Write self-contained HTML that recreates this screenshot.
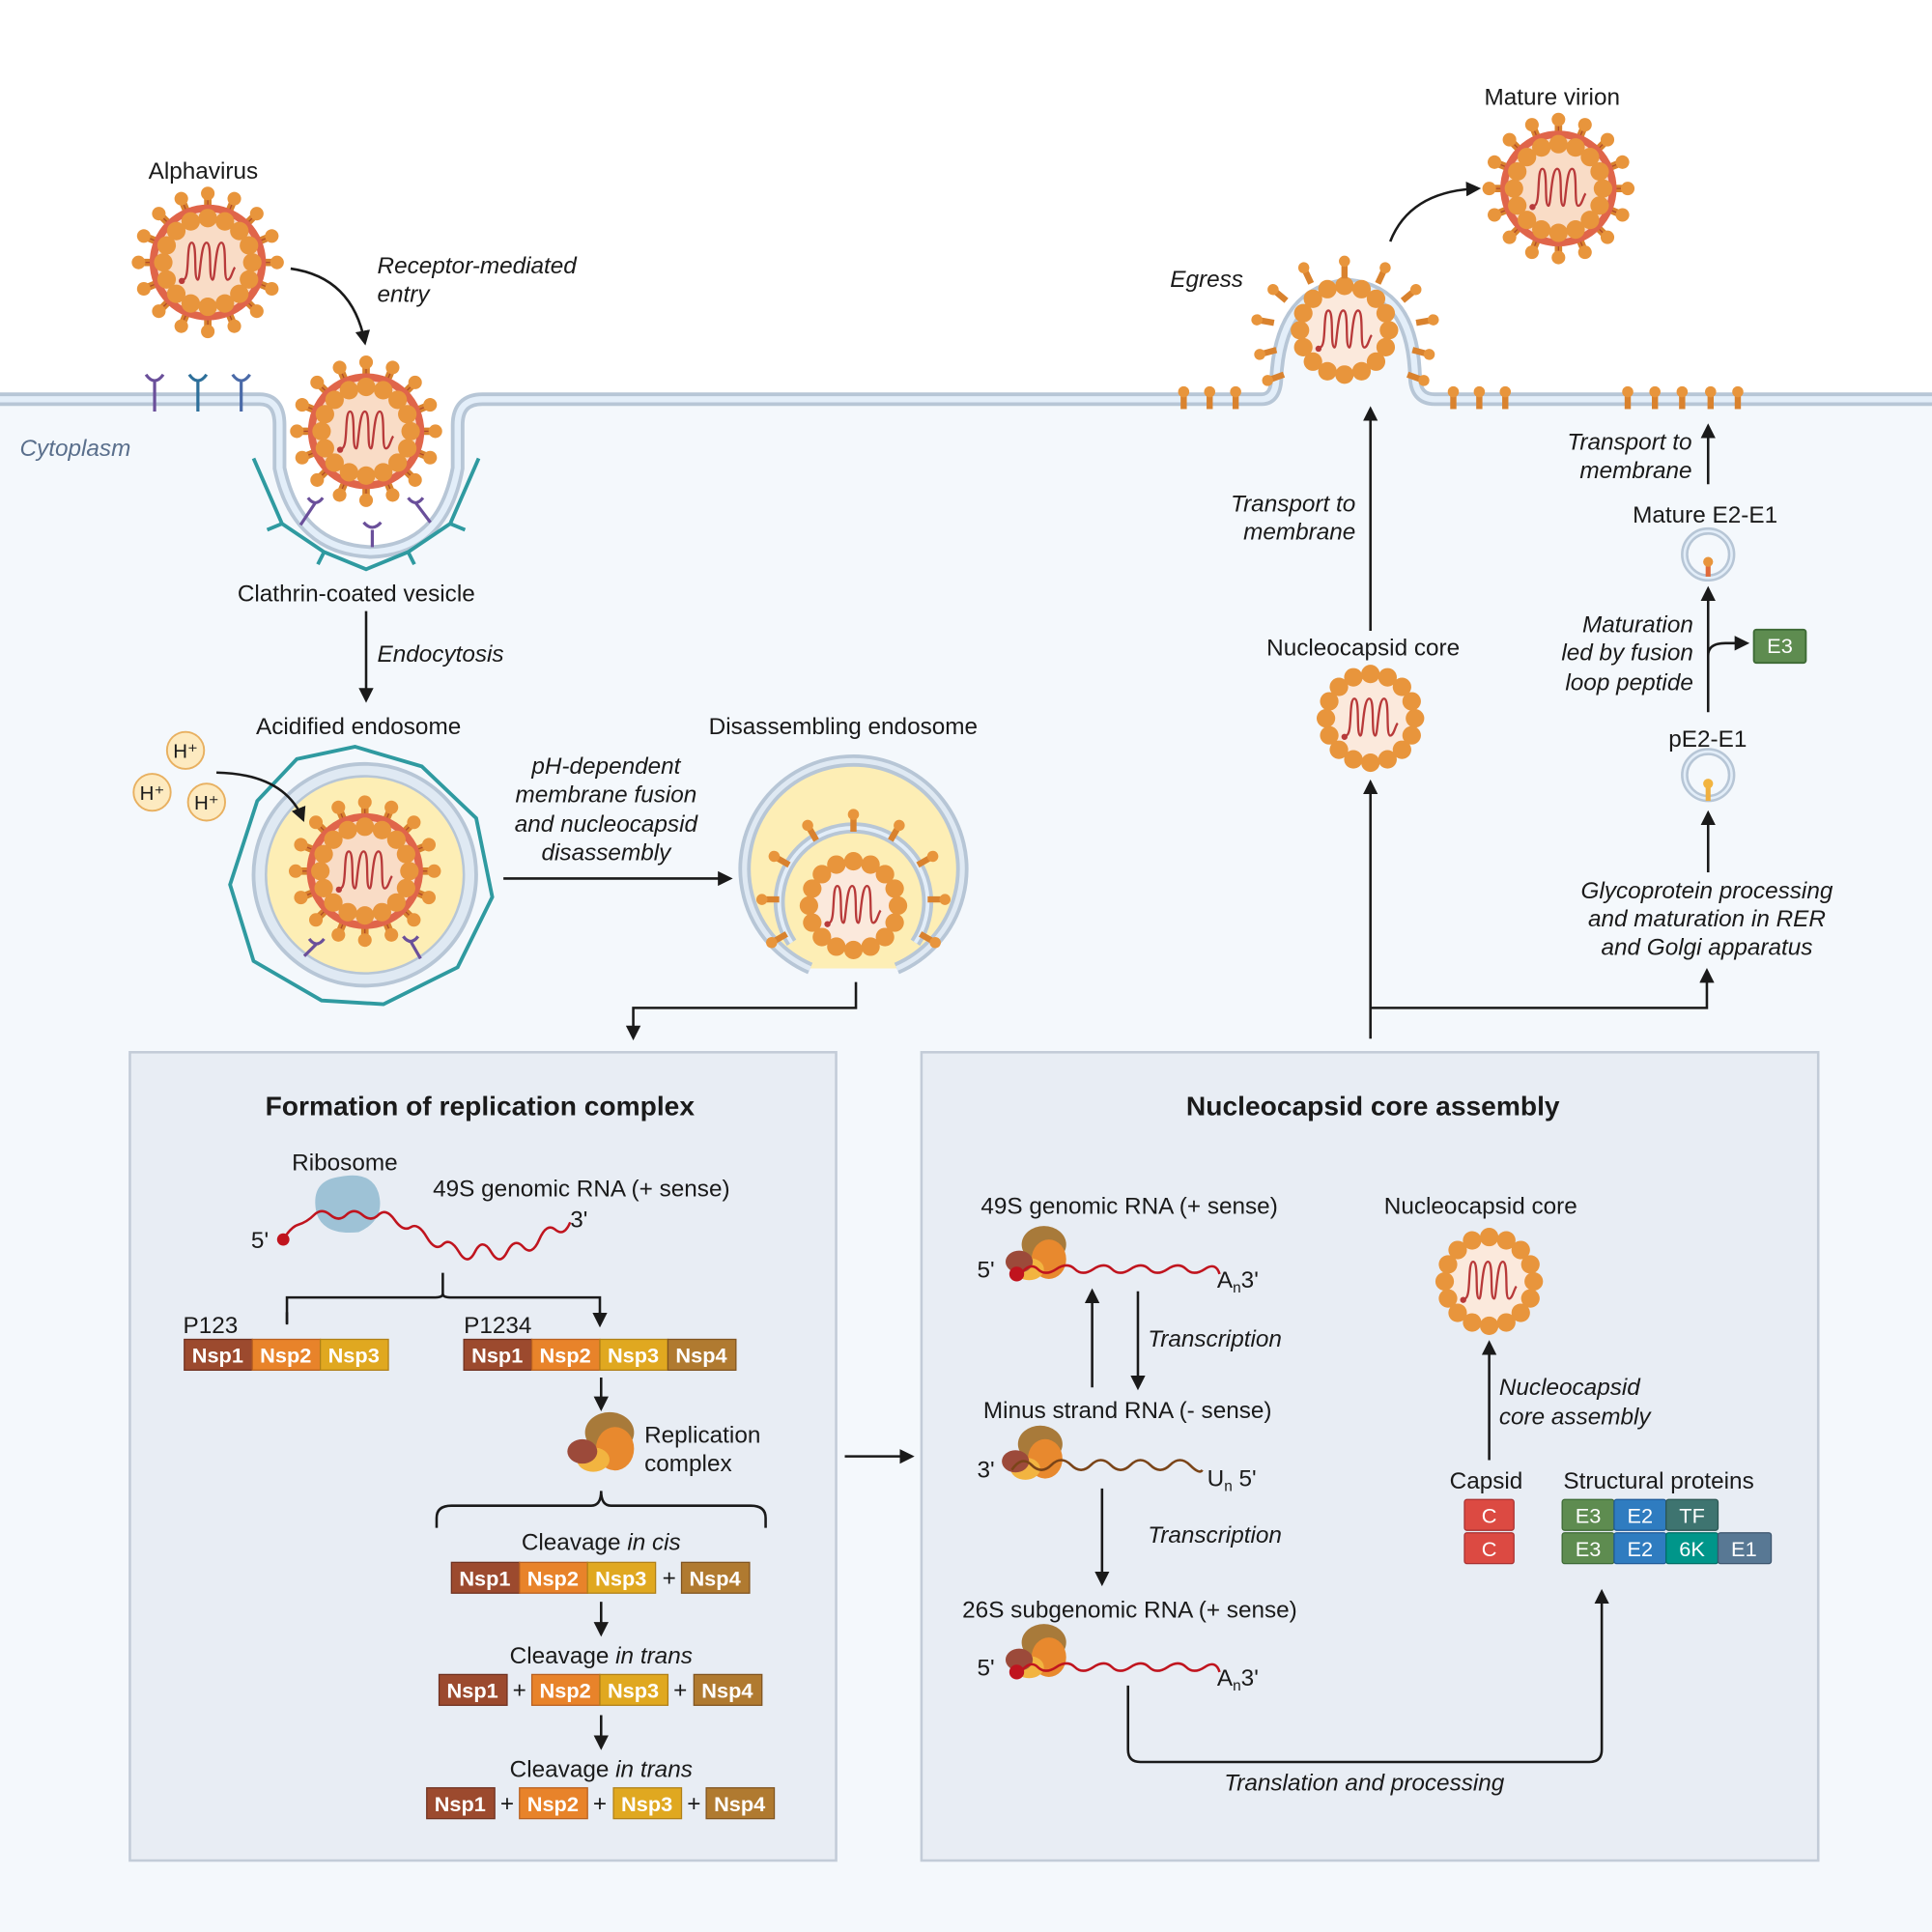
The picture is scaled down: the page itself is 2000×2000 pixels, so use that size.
<!DOCTYPE html>
<html><head><meta charset="utf-8"><style>
html,body{margin:0;padding:0;background:#fff}
svg{display:block}
text{font-family:"Liberation Sans",sans-serif;fill:#1a1a1a}
.t{font-size:19px}
.i{font-size:19px;font-style:italic}
.h{font-size:22px;font-weight:bold}
.b{font-size:17px;font-weight:bold;fill:#fff}
.w{font-size:17px;fill:#fff}
</style></head><body>
<svg width="2000" height="2000" viewBox="0 0 1562 1568" preserveAspectRatio="none" xmlns="http://www.w3.org/2000/svg">
<defs>
<marker id="ar" viewBox="0 0 10 10" refX="8" refY="5" markerWidth="6" markerHeight="6" orient="auto-start-reverse"><path d="M0,0 L10,5 L0,10 z" fill="#1a1a1a"/></marker>
<g id="coil"><path d="M-20,14 c6,0 2,-30 7,-30 c5,0 1,30 5,30 c2,0 2,-30 7,-30 c5,0 1,30 5,30 c2,0 2,-30 7,-30 c5,0 1,30 5,30 c3,0 4,-8 6,-10" fill="none" stroke="#b83a3a" stroke-width="1.8"/><circle cx="-21" cy="15" r="2.5" fill="#b83a3a"/></g>
<g id="spike"><line x1="0" y1="-44" x2="0" y2="-55" stroke="#d9822e" stroke-width="6"/><line x1="0" y1="-44" x2="0" y2="-55" stroke="#b04a2a" stroke-width="1"/><circle cx="0" cy="-56" r="5.5" fill="#e8953c"/></g>
<g id="beads">
<circle cx="0" cy="-36" r="7.5" fill="#e8953c"/><circle cx="13.8" cy="-33.3" r="7.5" fill="#e8953c"/><circle cx="25.5" cy="-25.5" r="7.5" fill="#e8953c"/><circle cx="33.3" cy="-13.8" r="7.5" fill="#e8953c"/><circle cx="36" cy="0" r="7.5" fill="#e8953c"/><circle cx="33.3" cy="13.8" r="7.5" fill="#e8953c"/><circle cx="25.5" cy="25.5" r="7.5" fill="#e8953c"/><circle cx="13.8" cy="33.3" r="7.5" fill="#e8953c"/><circle cx="0" cy="36" r="7.5" fill="#e8953c"/><circle cx="-13.8" cy="33.3" r="7.5" fill="#e8953c"/><circle cx="-25.5" cy="25.5" r="7.5" fill="#e8953c"/><circle cx="-33.3" cy="13.8" r="7.5" fill="#e8953c"/><circle cx="-36" cy="0" r="7.5" fill="#e8953c"/><circle cx="-33.3" cy="-13.8" r="7.5" fill="#e8953c"/><circle cx="-25.5" cy="-25.5" r="7.5" fill="#e8953c"/><circle cx="-13.8" cy="-33.3" r="7.5" fill="#e8953c"/>
</g>
<g id="vir">
<use href="#spike"/><use href="#spike" transform="rotate(22.5)"/><use href="#spike" transform="rotate(45)"/><use href="#spike" transform="rotate(67.5)"/><use href="#spike" transform="rotate(90)"/><use href="#spike" transform="rotate(112.5)"/><use href="#spike" transform="rotate(135)"/><use href="#spike" transform="rotate(157.5)"/><use href="#spike" transform="rotate(180)"/><use href="#spike" transform="rotate(202.5)"/><use href="#spike" transform="rotate(225)"/><use href="#spike" transform="rotate(247.5)"/><use href="#spike" transform="rotate(270)"/><use href="#spike" transform="rotate(292.5)"/><use href="#spike" transform="rotate(315)"/><use href="#spike" transform="rotate(337.5)"/>
<circle r="44" fill="#f9dcc6" stroke="#e0654a" stroke-width="6"/>
<use href="#beads"/><use href="#coil"/>
</g>
<g id="core"><circle r="36" fill="#fbe9dc"/><use href="#beads"/><use href="#coil"/></g>
<g id="rc"><ellipse cx="8" cy="-14" rx="18" ry="15" fill="#a87a3a"/><ellipse cx="12" cy="-2" rx="14" ry="16" fill="#e8892e"/><ellipse cx="-4" cy="6" rx="12" ry="9" fill="#f2b440"/><ellipse cx="-12" cy="0" rx="11" ry="9" fill="#9c4a3a"/></g>
<g id="glyco"><line x1="0" y1="0" x2="0" y2="-13" stroke="#d9822e" stroke-width="5"/><circle cx="0" cy="-14" r="4.5" fill="#e8953c"/></g>
</defs>

<rect x="0" y="0" width="1562" height="1568" fill="#fff"/>
<path d="M0,328 H210 Q222,328 222,345 V380 Q240,450 300,452 Q360,450 374,380 V345 Q374,328 390,328 H1020 Q1036,328 1036,310 Q1040,240 1090,235 Q1138,240 1140,310 Q1140,328 1160,328 H1562 V1568 H0 Z" fill="#f4f8fc"/>
<path d="M0,324 H210 Q226,324 226,345 V380 Q240,446 300,448 Q358,446 370,380 V345 Q370,324 390,324 H1020 Q1032,324 1032,305 Q1036,236 1090,231 Q1142,236 1144,305 Q1144,324 1160,324 H1562" fill="none" stroke="#b7c6d6" stroke-width="11"/>
<path d="M0,324 H210 Q226,324 226,345 V380 Q240,446 300,448 Q358,446 370,380 V345 Q370,324 390,324 H1020 Q1032,324 1032,305 Q1036,236 1090,231 Q1142,236 1144,305 Q1144,324 1160,324 H1562" fill="none" stroke="#e3eef9" stroke-width="5"/>

<g stroke-width="2.5" fill="none">
<path d="M118,304 q7,10 14,0 M125,310 V334" stroke="#6a4f9a"/>
<path d="M153,304 q7,10 14,0 M160,310 V334" stroke="#2d6f9a"/>
<path d="M188,304 q7,10 14,0 M195,310 V334" stroke="#4a6aa8"/>
</g>
<text x="16" y="370" class="i" style="fill:#5a6f8c">Cytoplasm</text>

<text x="120" y="145" class="t">Alphavirus</text>
<use href="#vir" transform="translate(168,213)"/>
<path d="M235,218 Q285,225 295,278" fill="none" stroke="#1a1a1a" stroke-width="2" marker-end="url(#ar)"/>
<text x="305" y="222" class="i">Receptor-mediated</text>
<text x="305" y="245" class="i">entry</text>
<use href="#vir" transform="translate(296,350)"/>
<path d="M205,372 L228,425 L262,448 L296,462 L330,448 L364,425 L387,372" fill="none" stroke="#2f9aa0" stroke-width="3"/>
<path d="M228,425 l-12,5 M262,448 l-5,10 M330,448 l5,10 M364,425 l12,5" stroke="#2f9aa0" stroke-width="3"/>
<path d="M249,404 q6,8 12,0 M255,408 l-12,18 M330,404 q6,8 12,0 M336,408 l12,16 M294,424 q7,8 14,0 M301,430 v14" fill="none" stroke="#6a4f9a" stroke-width="2.5"/>
<text x="192" y="488" class="t">Clathrin-coated vesicle</text>
<line x1="296" y1="496" x2="296" y2="568" stroke="#1a1a1a" stroke-width="2" marker-end="url(#ar)"/>
<text x="305" y="537" class="i">Endocytosis</text>

<text x="207" y="596" class="t">Acidified endosome</text>
<polygon points="287,606 341,622 385,664 398,728 370,785 310,815 260,812 205,780 186,718 208,650 240,616" fill="none" stroke="#2f9aa0" stroke-width="3"/>
<circle cx="295" cy="710" r="90" fill="#dfe9f3" stroke="#b7c6d6" stroke-width="3"/>
<circle cx="295" cy="710" r="80" fill="#fdeeb5" stroke="#b7c6d6" stroke-width="2"/>
<use href="#vir" transform="translate(295,707)"/>
<path d="M250,762 q6,8 12,0 M256,766 l-10,10 M326,760 q6,8 12,0 M332,764 l8,14" fill="none" stroke="#6a4f9a" stroke-width="2.5"/>
<circle cx="150" cy="609" r="15" fill="#fdeac0" stroke="#e8b060" stroke-width="1.5"/><text x="140" y="615" class="t" style="font-size:16px">H⁺</text>
<circle cx="123" cy="643" r="15" fill="#fdeac0" stroke="#e8b060" stroke-width="1.5"/><text x="113" y="649" class="t" style="font-size:16px">H⁺</text>
<circle cx="167" cy="651" r="15" fill="#fdeac0" stroke="#e8b060" stroke-width="1.5"/><text x="157" y="657" class="t" style="font-size:16px">H⁺</text>
<path d="M175,627 Q230,628 245,665" fill="none" stroke="#1a1a1a" stroke-width="2" marker-end="url(#ar)"/>
<text x="490" y="628" class="i" text-anchor="middle">pH-dependent</text>
<text x="490" y="651" class="i" text-anchor="middle">membrane fusion</text>
<text x="490" y="675" class="i" text-anchor="middle">and nucleocapsid</text>
<text x="490" y="698" class="i" text-anchor="middle">disassembly</text>
<line x1="407" y1="713" x2="590" y2="713" stroke="#1a1a1a" stroke-width="2" marker-end="url(#ar)"/>

<text x="573" y="596" class="t">Disassembling endosome</text>
<path d="M655,786 A88,88 0 1 1 725,786" fill="#fdeeb5" stroke="#b7c6d6" stroke-width="10"/>
<path d="M655,786 A88,88 0 1 1 725,786" fill="none" stroke="#dfe9f3" stroke-width="4"/>
<path d="M640,765 A60,60 0 1 1 740,765" fill="none" stroke="#b7c6d6" stroke-width="9"/>
<path d="M640,765 A60,60 0 1 1 740,765" fill="none" stroke="#e3eef9" stroke-width="3"/>
<use href="#core" transform="translate(690,735)"/>
<use href="#glyco" transform="translate(690,675)"/><use href="#glyco" transform="translate(660,682) rotate(-30)"/><use href="#glyco" transform="translate(720,682) rotate(30)"/><use href="#glyco" transform="translate(638,702) rotate(-60)"/><use href="#glyco" transform="translate(742,702) rotate(60)"/><use href="#glyco" transform="translate(630,730) rotate(-90)"/><use href="#glyco" transform="translate(750,730) rotate(90)"/><use href="#glyco" transform="translate(636,758) rotate(-120)"/><use href="#glyco" transform="translate(744,758) rotate(120)"/>
<path d="M692,797 V818 H512 V842" fill="none" stroke="#1a1a1a" stroke-width="2" marker-end="url(#ar)"/>

<text x="946" y="233" class="i">Egress</text>
<use href="#core" transform="translate(1087,268)"/>
<use href="#glyco" transform="translate(1087,226)"/><use href="#glyco" transform="translate(1060,230) rotate(-25)"/><use href="#glyco" transform="translate(1114,230) rotate(25)"/><use href="#glyco" transform="translate(1040,244) rotate(-50)"/><use href="#glyco" transform="translate(1134,244) rotate(50)"/><use href="#glyco" transform="translate(1030,262) rotate(-80)"/><use href="#glyco" transform="translate(1145,262) rotate(80)"/><use href="#glyco" transform="translate(1032,284) rotate(-105)"/><use href="#glyco" transform="translate(1142,284) rotate(105)"/><use href="#glyco" transform="translate(1038,304) rotate(-110)"/><use href="#glyco" transform="translate(1138,304) rotate(110)"/>
<use href="#glyco" transform="translate(957,332)"/><use href="#glyco" transform="translate(978,332)"/><use href="#glyco" transform="translate(999,332)"/><use href="#glyco" transform="translate(1175,332)"/><use href="#glyco" transform="translate(1196,332)"/><use href="#glyco" transform="translate(1217,332)"/><use href="#glyco" transform="translate(1316,332)"/><use href="#glyco" transform="translate(1338,332)"/><use href="#glyco" transform="translate(1360,332)"/><use href="#glyco" transform="translate(1383,332)"/><use href="#glyco" transform="translate(1405,332)"/>
<path d="M1124,196 Q1140,155 1195,153" fill="none" stroke="#1a1a1a" stroke-width="2" marker-end="url(#ar)"/>
<text x="1200" y="85" class="t">Mature virion</text>
<use href="#vir" transform="translate(1260,153)"/>

<line x1="1108" y1="512" x2="1108" y2="332" stroke="#1a1a1a" stroke-width="2" marker-end="url(#ar)"/>
<text x="1096" y="415" class="i" text-anchor="end">Transport to</text>
<text x="1096" y="438" class="i" text-anchor="end">membrane</text>
<text x="1024" y="532" class="t">Nucleocapsid core</text>
<use href="#core" transform="translate(1108,583)"/>
<path d="M1108,818 H1380 V788" fill="none" stroke="#1a1a1a" stroke-width="2" marker-end="url(#ar)"/>
<path d="M1108,843 V635" fill="none" stroke="#1a1a1a" stroke-width="2" marker-end="url(#ar)"/>

<text x="1368" y="365" class="i" text-anchor="end">Transport to</text>
<text x="1368" y="388" class="i" text-anchor="end">membrane</text>
<line x1="1381" y1="393" x2="1381" y2="346" stroke="#1a1a1a" stroke-width="2" marker-end="url(#ar)"/>
<text x="1320" y="424" class="t">Mature E2-E1</text>
<circle cx="1381" cy="450" r="19" fill="none" stroke="#b7c6d6" stroke-width="6"/><circle cx="1381" cy="450" r="19" fill="none" stroke="#e3eef9" stroke-width="2"/>
<line x1="1381" y1="455" x2="1381" y2="468" stroke="#e06a3a" stroke-width="4"/><circle cx="1381" cy="456" r="4" fill="#e8953c"/>
<line x1="1381" y1="578" x2="1381" y2="478" stroke="#1a1a1a" stroke-width="2" marker-end="url(#ar)"/>
<path d="M1381,532 Q1381,522 1395,522 H1412" fill="none" stroke="#1a1a1a" stroke-width="2" marker-end="url(#ar)"/>
<rect x="1418" y="511" width="42" height="27" rx="2" fill="#5e8c50" stroke="#3d6a35" stroke-width="1.5"/><text x="1439" y="530" class="w" text-anchor="middle">E3</text>
<text x="1369" y="513" class="i" text-anchor="end">Maturation</text>
<text x="1369" y="536" class="i" text-anchor="end">led by fusion</text>
<text x="1369" y="560" class="i" text-anchor="end">loop peptide</text>
<text x="1349" y="606" class="t">pE2-E1</text>
<circle cx="1381" cy="629" r="19" fill="none" stroke="#b7c6d6" stroke-width="6"/><circle cx="1381" cy="629" r="19" fill="none" stroke="#e3eef9" stroke-width="2"/>
<line x1="1381" y1="634" x2="1381" y2="650" stroke="#f0b040" stroke-width="4"/><circle cx="1381" cy="636" r="4" fill="#f2b440"/>
<line x1="1381" y1="708" x2="1381" y2="660" stroke="#1a1a1a" stroke-width="2" marker-end="url(#ar)"/>
<text x="1380" y="729" class="i" text-anchor="middle">Glycoprotein processing</text>
<text x="1380" y="752" class="i" text-anchor="middle">and maturation in RER</text>
<text x="1380" y="775" class="i" text-anchor="middle">and Golgi apparatus</text>

<rect x="105" y="854" width="571" height="656" fill="#e8edf4" stroke="#c3ccd8" stroke-width="2"/>
<text x="388" y="905" class="h" text-anchor="middle">Formation of replication complex</text>
<text x="236" y="950" class="t">Ribosome</text>
<path d="M256,985 Q250,958 275,955 Q300,950 306,968 Q312,990 290,1000 Q262,1003 256,985 Z" fill="#9ec2d6"/>
<text x="350" y="971" class="t">49S genomic RNA (+ sense)</text>
<text x="203" y="1013" class="t">5'</text>
<circle cx="229" cy="1006" r="5" fill="#c0141e"/>
<path d="M229,1006 q6,-10 12,-12 q7,-2 13,-8 t13,0 t13,0 t13,0 t13,0 t13,4 t13,6 t13,8 t13,6 t13,6 t13,0 t13,0 t13,0 t13,-4 t13,-6 t13,-8 t12,-6" fill="none" stroke="#c0141e" stroke-width="2"/>
<text x="461" y="996" class="t">3'</text>
<path d="M358,1033 V1050 Q358,1053 352,1053 H232 V1074 M358,1050 Q358,1053 364,1053 H485 V1074" fill="none" stroke="#1a1a1a" stroke-width="2"/>
<path d="M232,1065 V1075 M485,1065 V1075" stroke="#1a1a1a" stroke-width="2" marker-end="url(#ar)"/>
<text x="148" y="1082" class="t">P123</text>
<text x="375" y="1082" class="t">P1234</text>
<rect x="149" y="1087" width="55" height="25" fill="#9c4a2e" stroke="#6f3120"/><text x="176" y="1106" class="b" text-anchor="middle">Nsp1</text>
<rect x="204" y="1087" width="55" height="25" fill="#e8832a" stroke="#b86020"/><text x="231" y="1106" class="b" text-anchor="middle">Nsp2</text>
<rect x="259" y="1087" width="55" height="25" fill="#e0a820" stroke="#b08018"/><text x="286" y="1106" class="b" text-anchor="middle">Nsp3</text>
<rect x="375" y="1087" width="55" height="25" fill="#9c4a2e" stroke="#6f3120"/><text x="402" y="1106" class="b" text-anchor="middle">Nsp1</text>
<rect x="430" y="1087" width="55" height="25" fill="#e8832a" stroke="#b86020"/><text x="457" y="1106" class="b" text-anchor="middle">Nsp2</text>
<rect x="485" y="1087" width="55" height="25" fill="#e0a820" stroke="#b08018"/><text x="512" y="1106" class="b" text-anchor="middle">Nsp3</text>
<rect x="540" y="1087" width="55" height="25" fill="#b07a30" stroke="#805420"/><text x="567" y="1106" class="b" text-anchor="middle">Nsp4</text>
<line x1="486" y1="1118" x2="486" y2="1143" stroke="#1a1a1a" stroke-width="2" marker-end="url(#ar)"/>
<use href="#rc" transform="translate(484,1178) scale(1.1)"/>
<text x="521" y="1171" class="t">Replication</text>
<text x="521" y="1194" class="t">complex</text>
<path d="M353,1240 V1232 Q353,1222 365,1222 H478 Q486,1222 486,1210 Q486,1222 494,1222 H607 Q619,1222 619,1232 V1240" fill="none" stroke="#1a1a1a" stroke-width="2"/>
<text x="486" y="1258" class="t" text-anchor="middle">Cleavage <tspan font-style="italic">in cis</tspan></text>
<rect x="365" y="1268" width="55" height="25" fill="#9c4a2e" stroke="#6f3120"/><text x="392" y="1287" class="b" text-anchor="middle">Nsp1</text>
<rect x="420" y="1268" width="55" height="25" fill="#e8832a" stroke="#b86020"/><text x="447" y="1287" class="b" text-anchor="middle">Nsp2</text>
<rect x="475" y="1268" width="55" height="25" fill="#e0a820" stroke="#b08018"/><text x="502" y="1287" class="b" text-anchor="middle">Nsp3</text>
<text x="541" y="1287" class="t" text-anchor="middle">+</text>
<rect x="551" y="1268" width="55" height="25" fill="#b07a30" stroke="#805420"/><text x="578" y="1287" class="b" text-anchor="middle">Nsp4</text>
<line x1="486" y1="1300" x2="486" y2="1326" stroke="#1a1a1a" stroke-width="2" marker-end="url(#ar)"/>
<text x="486" y="1350" class="t" text-anchor="middle">Cleavage <tspan font-style="italic">in trans</tspan></text>
<rect x="355" y="1359" width="55" height="25" fill="#9c4a2e" stroke="#6f3120"/><text x="382" y="1378" class="b" text-anchor="middle">Nsp1</text>
<text x="420" y="1378" class="t" text-anchor="middle">+</text>
<rect x="430" y="1359" width="55" height="25" fill="#e8832a" stroke="#b86020"/><text x="457" y="1378" class="b" text-anchor="middle">Nsp2</text>
<rect x="485" y="1359" width="55" height="25" fill="#e0a820" stroke="#b08018"/><text x="512" y="1378" class="b" text-anchor="middle">Nsp3</text>
<text x="550" y="1378" class="t" text-anchor="middle">+</text>
<rect x="561" y="1359" width="55" height="25" fill="#b07a30" stroke="#805420"/><text x="588" y="1378" class="b" text-anchor="middle">Nsp4</text>
<line x1="486" y1="1392" x2="486" y2="1418" stroke="#1a1a1a" stroke-width="2" marker-end="url(#ar)"/>
<text x="486" y="1442" class="t" text-anchor="middle">Cleavage <tspan font-style="italic">in trans</tspan></text>
<rect x="345" y="1451" width="55" height="25" fill="#9c4a2e" stroke="#6f3120"/><text x="372" y="1470" class="b" text-anchor="middle">Nsp1</text>
<text x="410" y="1470" class="t" text-anchor="middle">+</text>
<rect x="420" y="1451" width="55" height="25" fill="#e8832a" stroke="#b86020"/><text x="447" y="1470" class="b" text-anchor="middle">Nsp2</text>
<text x="485" y="1470" class="t" text-anchor="middle">+</text>
<rect x="496" y="1451" width="55" height="25" fill="#e0a820" stroke="#b08018"/><text x="523" y="1470" class="b" text-anchor="middle">Nsp3</text>
<text x="561" y="1470" class="t" text-anchor="middle">+</text>
<rect x="571" y="1451" width="55" height="25" fill="#b07a30" stroke="#805420"/><text x="598" y="1470" class="b" text-anchor="middle">Nsp4</text>

<line x1="683" y1="1182" x2="737" y2="1182" stroke="#1a1a1a" stroke-width="2" marker-end="url(#ar)"/>

<rect x="745" y="854" width="725" height="656" fill="#e8edf4" stroke="#c3ccd8" stroke-width="2"/>
<text x="1110" y="905" class="h" text-anchor="middle">Nucleocapsid core assembly</text>

<text x="793" y="985" class="t">49S genomic RNA (+ sense)</text>
<text x="790" y="1037" class="t">5'</text>
<use href="#rc" transform="translate(836,1024)"/>
<path d="M825,1034 q8,-10 14,-4 t15,0 t15,0 t15,0 t15,0 t15,0 t15,0 t15,0 t15,0 t15,0 t12,4" fill="none" stroke="#c0141e" stroke-width="2"/>
<circle cx="822" cy="1034" r="6" fill="#c0141e"/>
<text x="984" y="1045" class="t">A<tspan font-size="12" dy="4">n</tspan><tspan dy="-4">3'</tspan></text>
<line x1="883" y1="1126" x2="883" y2="1048" stroke="#1a1a1a" stroke-width="2" marker-end="url(#ar)"/>
<line x1="920" y1="1048" x2="920" y2="1126" stroke="#1a1a1a" stroke-width="2" marker-end="url(#ar)"/>
<text x="928" y="1093" class="i">Transcription</text>
<text x="795" y="1151" class="t">Minus strand RNA (- sense)</text>
<text x="790" y="1199" class="t">3'</text>
<use href="#rc" transform="translate(833,1186)"/>
<path d="M818,1193 q8,-12 16,-4 t16,0 t16,0 t16,0 t16,0 t16,0 t16,0 t16,0 t16,0 t10,4" fill="none" stroke="#7a4418" stroke-width="2"/>
<text x="976" y="1206" class="t">U<tspan font-size="12" dy="4">n</tspan><tspan dy="-4"> 5'</tspan></text>
<line x1="891" y1="1208" x2="891" y2="1285" stroke="#1a1a1a" stroke-width="2" marker-end="url(#ar)"/>
<text x="928" y="1252" class="i">Transcription</text>
<text x="778" y="1313" class="t">26S subgenomic RNA (+ sense)</text>
<text x="790" y="1360" class="t">5'</text>
<use href="#rc" transform="translate(836,1347)"/>
<path d="M825,1357 q8,-10 14,-4 t15,0 t15,0 t15,0 t15,0 t15,0 t15,0 t15,0 t15,0 t15,0 t12,4" fill="none" stroke="#c0141e" stroke-width="2"/>
<circle cx="822" cy="1357" r="6" fill="#c0141e"/>
<text x="984" y="1368" class="t">A<tspan font-size="12" dy="4">n</tspan><tspan dy="-4">3'</tspan></text>
<path d="M912,1368 V1420 Q912,1430 922,1430 H1285 Q1295,1430 1295,1420 V1292" fill="none" stroke="#1a1a1a" stroke-width="2" marker-end="url(#ar)"/>
<text x="1103" y="1453" class="i" text-anchor="middle">Translation and processing</text>

<text x="1119" y="985" class="t">Nucleocapsid core</text>
<use href="#core" transform="translate(1204,1040)"/>
<line x1="1204" y1="1185" x2="1204" y2="1090" stroke="#1a1a1a" stroke-width="2" marker-end="url(#ar)"/>
<text x="1212" y="1132" class="i">Nucleocapsid</text>
<text x="1212" y="1156" class="i">core assembly</text>
<text x="1172" y="1208" class="t">Capsid</text>
<rect x="1184" y="1217" width="40" height="25" rx="2" fill="#dc4a42" stroke="#a83030"/><text x="1204" y="1236" class="w" text-anchor="middle">C</text>
<rect x="1184" y="1244" width="40" height="25" rx="2" fill="#dc4a42" stroke="#a83030"/><text x="1204" y="1263" class="w" text-anchor="middle">C</text>
<text x="1264" y="1208" class="t">Structural proteins</text>
<rect x="1263" y="1217" width="42" height="25" rx="2" fill="#5e8c50" stroke="#3d6a35"/><text x="1284" y="1236" class="w" text-anchor="middle">E3</text>
<rect x="1305" y="1217" width="42" height="25" rx="2" fill="#2f7cc0" stroke="#1f5a98"/><text x="1326" y="1236" class="w" text-anchor="middle">E2</text>
<rect x="1347" y="1217" width="42" height="25" rx="2" fill="#3e7470" stroke="#2b5552"/><text x="1368" y="1236" class="w" text-anchor="middle">TF</text>
<rect x="1263" y="1244" width="42" height="25" rx="2" fill="#5e8c50" stroke="#3d6a35"/><text x="1284" y="1263" class="w" text-anchor="middle">E3</text>
<rect x="1305" y="1244" width="42" height="25" rx="2" fill="#2f7cc0" stroke="#1f5a98"/><text x="1326" y="1263" class="w" text-anchor="middle">E2</text>
<rect x="1347" y="1244" width="42" height="25" rx="2" fill="#00968a" stroke="#006e66"/><text x="1368" y="1263" class="w" text-anchor="middle">6K</text>
<rect x="1389" y="1244" width="43" height="25" rx="2" fill="#587894" stroke="#3d556e"/><text x="1410" y="1263" class="w" text-anchor="middle">E1</text>
</svg>
</body></html>
